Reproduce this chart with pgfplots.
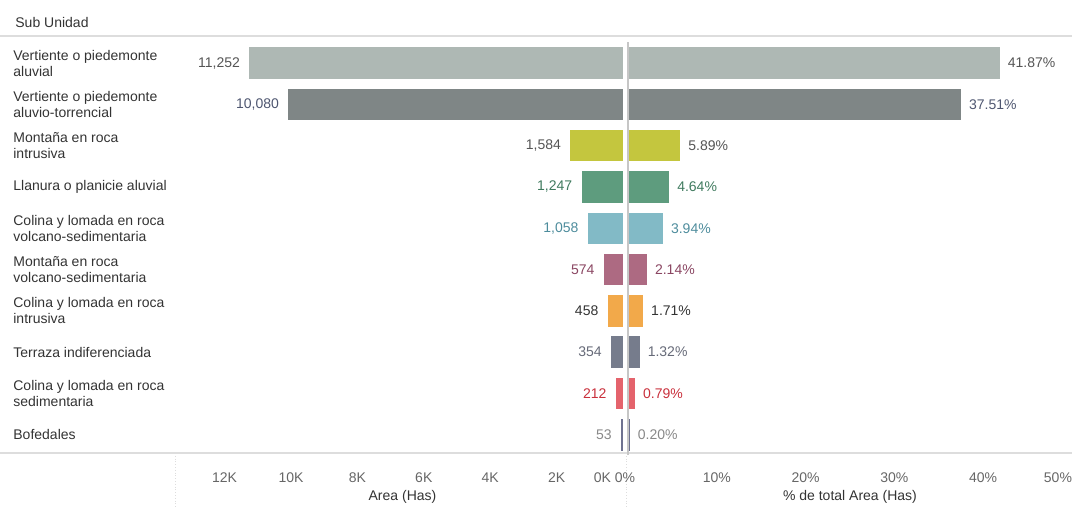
\documentclass[border=0pt]{standalone}
\usepackage{fontspec}
\setmainfont{Liberation Sans}
\usepackage{pgfplots}
\pgfplotsset{compat=1.18}

% bar colours
\definecolor{cA}{HTML}{AEB8B4}
\definecolor{cB}{HTML}{7F8686}
\definecolor{cC}{HTML}{C4C63E}
\definecolor{cD}{HTML}{5E9C7E}
\definecolor{cE}{HTML}{82BAC6}
\definecolor{cF}{HTML}{AD6A82}
\definecolor{cG}{HTML}{F2A94A}
\definecolor{cH}{HTML}{767C8C}
\definecolor{cI}{HTML}{E4636C}
\definecolor{cJ}{HTML}{6E7290}
% label colours
\definecolor{tA}{HTML}{555555}
\definecolor{tB}{HTML}{4E5670}
\definecolor{tC}{HTML}{555555}
\definecolor{tD}{HTML}{3F7A5E}
\definecolor{tE}{HTML}{4D8C9C}
\definecolor{tF}{HTML}{8A4662}
\definecolor{tG}{HTML}{333333}
\definecolor{tH}{HTML}{666A78}
\definecolor{tI}{HTML}{C9303C}
\definecolor{tJ}{HTML}{888888}
\definecolor{txt}{HTML}{333333}
\definecolor{tick}{HTML}{666666}
\definecolor{rule}{HTML}{DDDDDD}

\newcommand\fnt{\fontsize{7}{8}\selectfont}
% one bar: value, row, fill, label colour
\newcommand\onebar[4]{\addplot[fill=#3,draw=none,every node near coord/.append style={text=#4}] coordinates {(#1,#2)};}

\pgfplotsset{
  common/.style={
    scale only axis, height=206.5pt, anchor=south west,
    xbar, bar width=15.75pt, bar shift=0pt,
    y dir=reverse, ymin=-0.5, ymax=9.5,
    axis line style={draw=none}, major tick length=0pt,
    scaled x ticks=false,
    clip=false, point meta=x, nodes near coords,
    /pgf/number format/assume math mode=true,
    every node near coord/.append style={font=\fnt},
    xticklabel style={font=\fnt, text=tick, yshift=-5pt},
  }
}

\begin{document}
\begin{tikzpicture}
\useasboundingbox (0,0) rectangle (536pt,255pt);

\draw[rule, line width=0.6pt] (0,237pt) -- (536pt,237pt);
\draw[rule, line width=0.6pt] (0,28.5pt) -- (536pt,28.5pt);
\draw[rule, densely dotted] (87.5pt,28.5pt) -- (87.5pt,1pt);
\draw[rule, densely dotted] (313pt,28.5pt) -- (313pt,1pt);
\node[anchor=west, font=\fnt, text=txt, inner sep=0pt] at (7.5pt,244pt) {Sub Unidad};

% left half: area
\begin{axis}[common,
  at={(91pt,27.3pt)}, width=220.5pt,
  x dir=reverse, xmin=0, xmax=13283,
  ytick=\empty,
  xtick={2000,4000,6000,8000,10000,12000},
  xticklabels={2K,4K,6K,8K,10K,12K},
  extra x ticks={0}, extra x tick labels={0K},
  extra x tick style={xticklabel style={anchor=north east, xshift=-2.5pt}},
  nodes near coords align={left},
  nodes near coords={\pgfmathprintnumber[fixed,precision=0,1000 sep={,}]{\pgfplotspointmeta}},
  every node near coord/.append style={xshift=-1.2pt},
]
\onebar{11252}{0}{cA}{tA}
\onebar{10080}{1}{cB}{tB}
\onebar{1584}{2}{cC}{tC}
\onebar{1247}{3}{cD}{tD}
\onebar{1058}{4}{cE}{tE}
\onebar{574}{5}{cF}{tF}
\onebar{458}{6}{cG}{tG}
\onebar{354}{7}{cH}{tH}
\onebar{212}{8}{cI}{tI}
\onebar{53}{9}{cJ}{tJ}
\node[font=\fnt, text=txt] at (rel axis cs:0.5,0) [yshift=-20.5pt] {Area (Has)};
\end{axis}

% right half: share of total
\begin{axis}[common,
  at={(314pt,27.3pt)}, width=222pt,
  xmin=0, xmax=50,
  xtick={10,20,30,40,50},
  xticklabels={10\%,20\%,30\%,40\%,\makebox[0pt][r]{50\%}},
  extra x ticks={0}, extra x tick labels={0\%},
  extra x tick style={xticklabel style={xshift=-1.5pt}},
  ytick={0,...,9},
  yticklabels={{Vertiente o piedemonte\\aluvial},
    {Vertiente o piedemonte\\aluvio-torrencial},
    {Montaña en roca\\intrusiva},
    {Llanura o planicie aluvial},
    {Colina y lomada en roca\\volcano-sedimentaria},
    {Montaña en roca\\volcano-sedimentaria},
    {Colina y lomada en roca\\intrusiva},
    {Terraza indiferenciada},
    {Colina y lomada en roca\\sedimentaria},
    {Bofedales}},
  yticklabel style={anchor=west, align=left, inner sep=0pt, xshift=-307.5pt,
    font=\fnt, text=txt},
  nodes near coords align={right},
  nodes near coords={\pgfmathprintnumber[fixed,fixed zerofill,precision=2]{\pgfplotspointmeta}\%},
  every node near coord/.append style={xshift=0.5pt},
]
\onebar{41.87}{0}{cA}{tA}
\onebar{37.51}{1}{cB}{tB}
\onebar{5.89}{2}{cC}{tC}
\onebar{4.64}{3}{cD}{tD}
\onebar{3.94}{4}{cE}{tE}
\onebar{2.14}{5}{cF}{tF}
\onebar{1.71}{6}{cG}{tG}
\onebar{1.32}{7}{cH}{tH}
\onebar{0.79}{8}{cI}{tI}
\onebar{0.20}{9}{cJ}{tJ}
\draw[gray!45, line width=0.6pt] (axis cs:0,-0.5) -- (axis cs:0,9.5);
\node[font=\fnt, text=txt] at (rel axis cs:0.5,0) [yshift=-20.5pt] {\% de total Area (Has)};
\end{axis}
\end{tikzpicture}
\end{document}
